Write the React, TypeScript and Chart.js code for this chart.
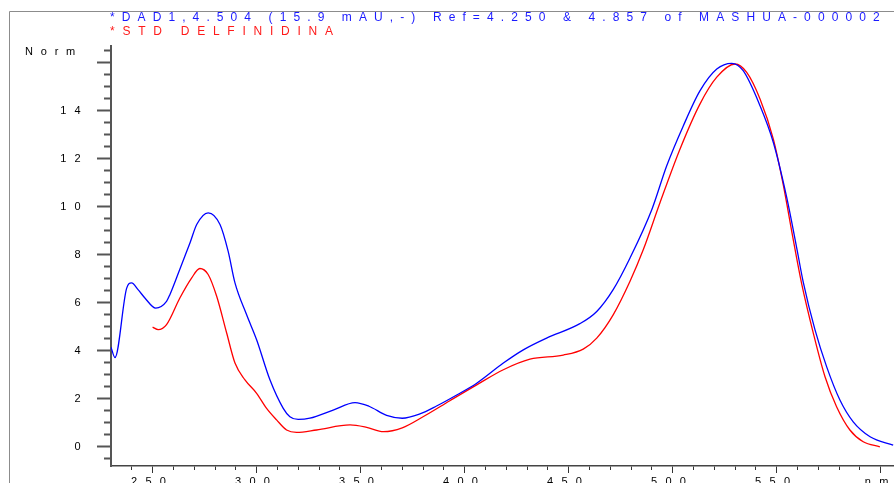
import React, { useEffect, useRef } from "react";
import { Chart, registerables } from "chart.js";

Chart.register(...registerables);

// DAD1 spectrum at 4.504 min (normalised)
const dadNm = [230, 231.9, 237.5, 239.9, 243, 246.3, 251.5, 256.7, 258.3, 263, 265.5, 268, 271.2, 276.7, 282.4, 286.3, 289.6, 295.2, 300, 306.4, 312.8, 316, 320, 325.6, 336.8, 347.3, 354, 362.5, 370, 378.5, 386.5, 396.2, 405.8, 418.6, 428.2, 439.4, 455.4, 463.5, 471.4, 479.5, 490, 497.1, 505.1, 513.1, 521.2, 528.4, 533.9, 542, 548.4, 554.8, 559.6, 562.8, 568.4, 574, 580.4, 586.8, 594.9, 606];
const dadNorm = [4.15, 3.72, 6.6, 6.83, 6.55, 6.2, 5.78, 6.06, 6.34, 7.38, 7.94, 8.5, 9.26, 9.75, 9.26, 8.15, 6.83, 5.5, 4.46, 2.79, 1.6, 1.25, 1.14, 1.19, 1.53, 1.84, 1.69, 1.31, 1.19, 1.37, 1.7, 2.16, 2.65, 3.49, 4.04, 4.53, 5.13, 5.64, 6.55, 7.87, 9.89, 11.7, 13.37, 14.83, 15.74, 15.98, 15.67, 14.21, 12.68, 10.4, 8.3, 6.85, 4.88, 3.34, 1.95, 1.04, 0.42, 0.07];

// Delphinidin standard spectrum
const stdNm = [250, 252.7, 256.7, 263.1, 268.8, 272.7, 276.7, 280.8, 285.6, 289.6, 294.4, 300, 304.8, 309.6, 314.4, 319.2, 328.8, 344.9, 352.9, 361, 370, 380, 392.9, 405.8, 418.6, 431.4, 447.4, 457, 463.5, 471.4, 479.5, 485.9, 493.9, 503.5, 513.1, 521.2, 530, 535.6, 542, 548.4, 553.2, 557.5, 562, 567.6, 573.2, 578.8, 585.2, 591.6, 599.6];
const stdNorm = [4.99, 4.88, 5.09, 6.2, 7.04, 7.43, 7.18, 6.27, 4.74, 3.49, 2.79, 2.23, 1.6, 1.12, 0.7, 0.6, 0.7, 0.91, 0.81, 0.63, 0.79, 1.25, 1.92, 2.58, 3.21, 3.65, 3.82, 4.07, 4.53, 5.5, 6.9, 8.22, 10.17, 12.4, 14.28, 15.4, 15.95, 15.6, 14.49, 12.82, 10.9, 8.85, 6.8, 4.74, 2.93, 1.67, 0.7, 0.21, 0.0];

const titleDad = "*DAD1,4.504 (15.9 mAU,-) Ref=4.250 & 4.857 of MASHUA-000002";
const titleStd = "*STD DELFINIDINA";
const yAxisTitle = "Norm";
const xUnit = "nm";

// axis ranges and tick layout
const xMin = 230;
const xMax = 606.4;
const yMin = -0.8;
const yMax = 16.7;
const xMajorTicks = [250, 300, 350, 400, 450, 500, 550, 600];
const yLabelled = [0, 2, 4, 6, 8, 10, 12, 14];

const FONT = '"Liberation Sans", Arial, Helvetica, sans-serif';

const toPoints = (xs: number[], ys: number[]) => xs.map((x, i) => ({ x, y: ys[i] }));

const framePlugin = {
  id: "frame",
  beforeDraw(chart: any) {
    const ctx = chart.ctx;
    ctx.save();
    ctx.strokeStyle = "#8c8c8c";
    ctx.lineWidth = 1;
    ctx.beginPath();
    ctx.moveTo(9.5, 483);
    ctx.lineTo(9.5, 11.5);
    ctx.lineTo(894, 11.5);
    ctx.stroke();
    ctx.restore();
    // spaced lettering for axis labels
    ctx.letterSpacing = "8.3px";
  },
  afterDraw(chart: any) {
    const ctx = chart.ctx;
    ctx.save();
    ctx.font = `12px ${FONT}`;
    ctx.textBaseline = "middle";
    ctx.textAlign = "left";
    ctx.letterSpacing = "7.1px";
    ctx.fillStyle = "#1a1aff";
    ctx.fillText(titleDad, 110, 17.5);
    ctx.letterSpacing = "7.75px";
    ctx.fillStyle = "#ff1a1a";
    ctx.fillText(titleStd, 110, 31.5);
    ctx.font = `11px ${FONT}`;
    ctx.letterSpacing = "7.8px";
    ctx.fillStyle = "#000";
    ctx.fillText(yAxisTitle, 25, 51.5);
    ctx.restore();
    ctx.letterSpacing = "0px";
  },
};

export default function App() {
  const ref = useRef<HTMLCanvasElement | null>(null);

  useEffect(() => {
    if (!ref.current) return;
    const chart = new Chart(ref.current, {
      type: "line",
      data: {
        datasets: [
          {
            label: titleDad,
            data: toPoints(dadNm, dadNorm),
            borderColor: "#0000ff",
            borderWidth: 1.3,
            pointRadius: 0,
            cubicInterpolationMode: "monotone",
          },
          {
            label: titleStd,
            data: toPoints(stdNm, stdNorm),
            borderColor: "#ff0000",
            borderWidth: 1.3,
            pointRadius: 0,
            cubicInterpolationMode: "monotone",
          },
        ],
      },
      options: {
        animation: false,
        responsive: false,
        devicePixelRatio: 1,
        parsing: false,
        normalized: true,
        layout: { padding: { top: 46, left: 0, right: 0, bottom: 0 } },
        plugins: {
          legend: { display: false },
          title: { display: false },
          tooltip: { enabled: false },
        },
        scales: {
          x: {
            type: "linear",
            min: xMin,
            max: xMax,
            afterFit: (s: any) => {
              s.height = 17;
            },
            afterBuildTicks: (s: any) => {
              const t = [];
              for (let v = 240; v <= 600; v += 10) t.push({ value: v });
              s.ticks = t;
            },
            border: { display: true, color: "#444", width: 1.5 },
            grid: {
              drawOnChartArea: false,
              drawTicks: true,
              tickLength: 7,
              tickWidth: 1,
              tickColor: "#333",
              tickBorderDash: (c: any) =>
                xMajorTicks.includes(c.tick?.value) ? [] : [3.5, 20],
            },
            ticks: {
              autoSkip: false,
              maxRotation: 0,
              padding: 2,
              color: "#000",
              font: { family: FONT, size: 11 },
              callback: (v: any) => {
                const n = Number(v);
                if (n === 600) return xUnit;
                return xMajorTicks.includes(n) ? String(n) : "";
              },
            },
          },
          y: {
            type: "linear",
            min: yMin,
            max: yMax,
            afterFit: (s: any) => {
              s.width = 111;
            },
            afterBuildTicks: (s: any) => {
              const t = [];
              for (let i = -1; i <= 33; i++) t.push({ value: i / 2 });
              s.ticks = t;
            },
            border: { display: true, color: "#555", width: 2 },
            grid: {
              drawOnChartArea: false,
              drawTicks: true,
              tickLength: 14,
              tickWidth: 2,
              tickColor: "#555",
              tickBorderDash: (c: any) =>
                c.tick && c.tick.value % 2 === 0 ? [] : [0, 7, 7, 100],
            },
            ticks: {
              autoSkip: false,
              padding: 8,
              color: "#000",
              font: { family: FONT, size: 11 },
              callback: (v: any) => {
                const n = Number(v);
                return yLabelled.includes(n) ? String(n) : "";
              },
            },
          },
        },
      },
      plugins: [framePlugin],
    });
    return () => chart.destroy();
  }, []);

  return (
    <div style={{ position: "fixed", left: 0, top: 0, width: 894, height: 483, background: "#fff" }}>
      <canvas ref={ref} width={894} height={483} style={{ display: "block" }} />
    </div>
  );
}
